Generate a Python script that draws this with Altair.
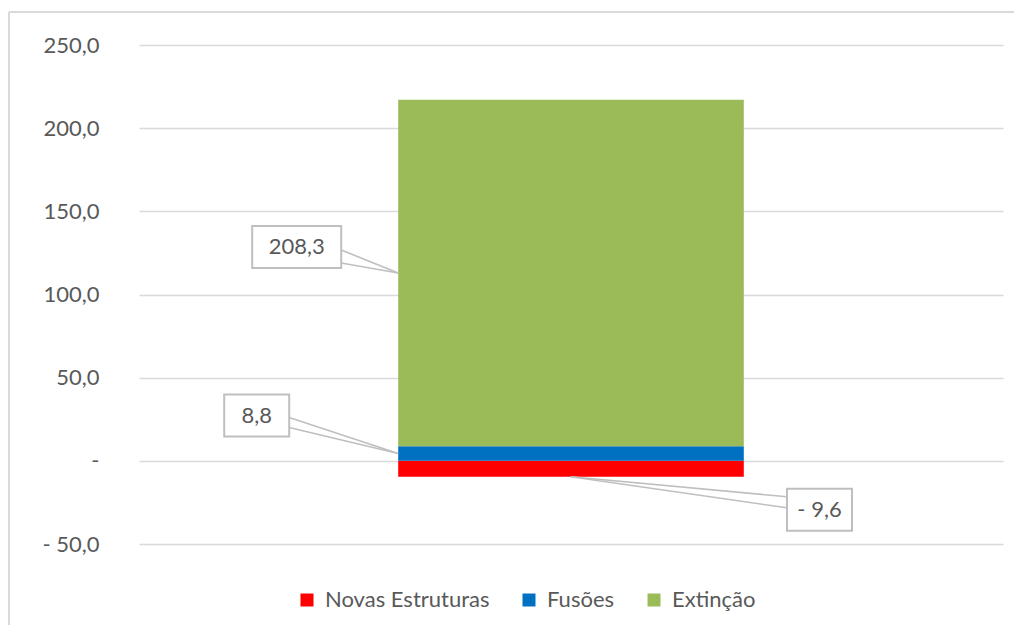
import altair as alt
import pandas as pd

# ---------------- data ----------------
series = ["Novas Estruturas", "Fusões", "Extinção"]
values = [-9.6, 8.8, 208.3]
colors = ["#FF0000", "#0070C0", "#9BBB59"]
y_ticks = [-50, 0, 50, 100, 150, 200, 250]

# ---------------- style ----------------
FONT = "Lato"
TXT = "#595959"
GRID = "#D9D9D9"
BOX = "#BFBFBF"
FS = 22
W, H = 864, 499
BAR_X0, BAR_X1 = 0.3, 0.7

# callout style per series: anchor kind, box offsets (x0,x1,y0,y1), text offset, two leader starts
callouts = {
    "Extinção": dict(anchor="mid-left", box=(-146, -57, -47, -5), txt=(-101.5, -26),
                     lead=[(-57, -23), (-57, -10)]),
    "Fusões": dict(anchor="mid-left", box=(-174, -109, -59, -17), txt=(-141.5, -38),
                   lead=[(-109, -36), (-109, -26)]),
    "Novas Estruturas": dict(anchor="bottom-center", box=(216, 281, 12, 54), txt=(248.5, 33),
                             lead=[(216, 20), (216, 31)]),
}


def fmt(v):
    s = f"{abs(v):.1f}".replace(".", ",")
    return "- " + s if v < 0 else s


# stacking (positives upward, negatives downward, like Excel)
rows = []
pos = neg = 0.0
for s, v in zip(series, values):
    if v >= 0:
        y0, y1 = pos, pos + v
        pos = y1
    else:
        y0, y1 = neg, neg + v
        neg = y1
    rows.append(dict(series=s, value=v, y0=y0, y1=y1))
bars = pd.DataFrame(rows)

xscale = alt.Scale(domain=[0, 1], nice=False, zero=False)
yscale = alt.Scale(domain=[min(y_ticks), max(y_ticks)], nice=False, zero=False)
yaxis = alt.Axis(
    values=y_ticks, title=None, domain=False, ticks=False, grid=True,
    gridColor=GRID, gridWidth=1.3, labelFontSize=FS, labelColor=TXT, labelFont=FONT,
    labelPadding=40,
    labelExpr="datum.value == 0 ? '-\u00a0\u00a0\u00a0' : (datum.value < 0 ? '- ' + replace(format(abs(datum.value), '.1f'), '.', ',') : replace(format(datum.value, '.1f'), '.', ','))",
)

bar = alt.Chart(bars).mark_rect(strokeWidth=0).encode(
    x=alt.datum(BAR_X0, scale=xscale, axis=None),
    x2=alt.datum(BAR_X1),
    y=alt.Y("y0:Q", scale=yscale, axis=yaxis),
    y2="y1:Q",
    color=alt.Color(
        "series:N",
        scale=alt.Scale(domain=series, range=colors),
        legend=alt.Legend(
            orient="none", legendX=157, legendY=544, direction="horizontal", columns=3,
            title=None, symbolType="square", symbolSize=169, symbolStrokeWidth=0,
            labelFontSize=FS, labelColor=TXT, labelFont=FONT, labelOffset=7,
            labelLimit=400, columnPadding=28,
        ),
    ),
)

layers = [bar]
for r in rows:
    c = callouts[r["series"]]
    if c["anchor"] == "mid-left":
        ax, ay = BAR_X0, (r["y0"] + r["y1"]) / 2
    else:
        ax, ay = (BAR_X0 + BAR_X1) / 2, r["y1"]
    d = pd.DataFrame([dict(ax=ax, ay=ay, label=fmt(r["value"]))])
    enc = dict(
        x=alt.X("ax:Q", scale=xscale, axis=None),
        y=alt.Y("ay:Q", scale=yscale, axis=yaxis),
    )
    for lx, ly in c["lead"]:
        layers.append(
            alt.Chart(d).mark_rule(stroke=BOX, strokeWidth=1.6, xOffset=lx, yOffset=ly,
                                   x2Offset=0, y2Offset=0)
            .encode(x2="ax:Q", y2="ay:Q", **enc)
        )
    bx0, bx1, by0, by1 = c["box"]
    layers.append(
        alt.Chart(d).mark_rect(fill="white", stroke=BOX, strokeWidth=2,
                               xOffset=bx0, x2Offset=bx1, yOffset=by0, y2Offset=by1)
        .encode(x2="ax:Q", y2="ay:Q", **enc)
    )
    tdx, tdy = c["txt"]
    layers.append(
        alt.Chart(d).mark_text(font=FONT, fontSize=FS, color=TXT, align="center",
                               baseline="middle", dx=tdx, dy=tdy)
        .encode(text="label:N", **enc)
    )

# outer chart frame (Excel chart area border)
frame_top = alt.Chart(bars).mark_rule(stroke=GRID, strokeWidth=2).encode(
    x=alt.value(-130), x2=alt.value(900), y=alt.value(-33)
)
frame_left = alt.Chart(bars).mark_rule(stroke=GRID, strokeWidth=2).encode(
    x=alt.value(-130), y=alt.value(-33), y2=alt.value(620)
)
layers += [frame_top, frame_left]

chart = alt.layer(*layers).properties(
    width=W, height=H,
    autosize=alt.AutoSizeParams(type="none"),
    padding={"left": 131, "top": 37, "right": 11, "bottom": 81},
).configure(font=FONT).configure_view(stroke=None)

chart.save("out.html", embed_options={"renderer": "svg", "actions": False})
